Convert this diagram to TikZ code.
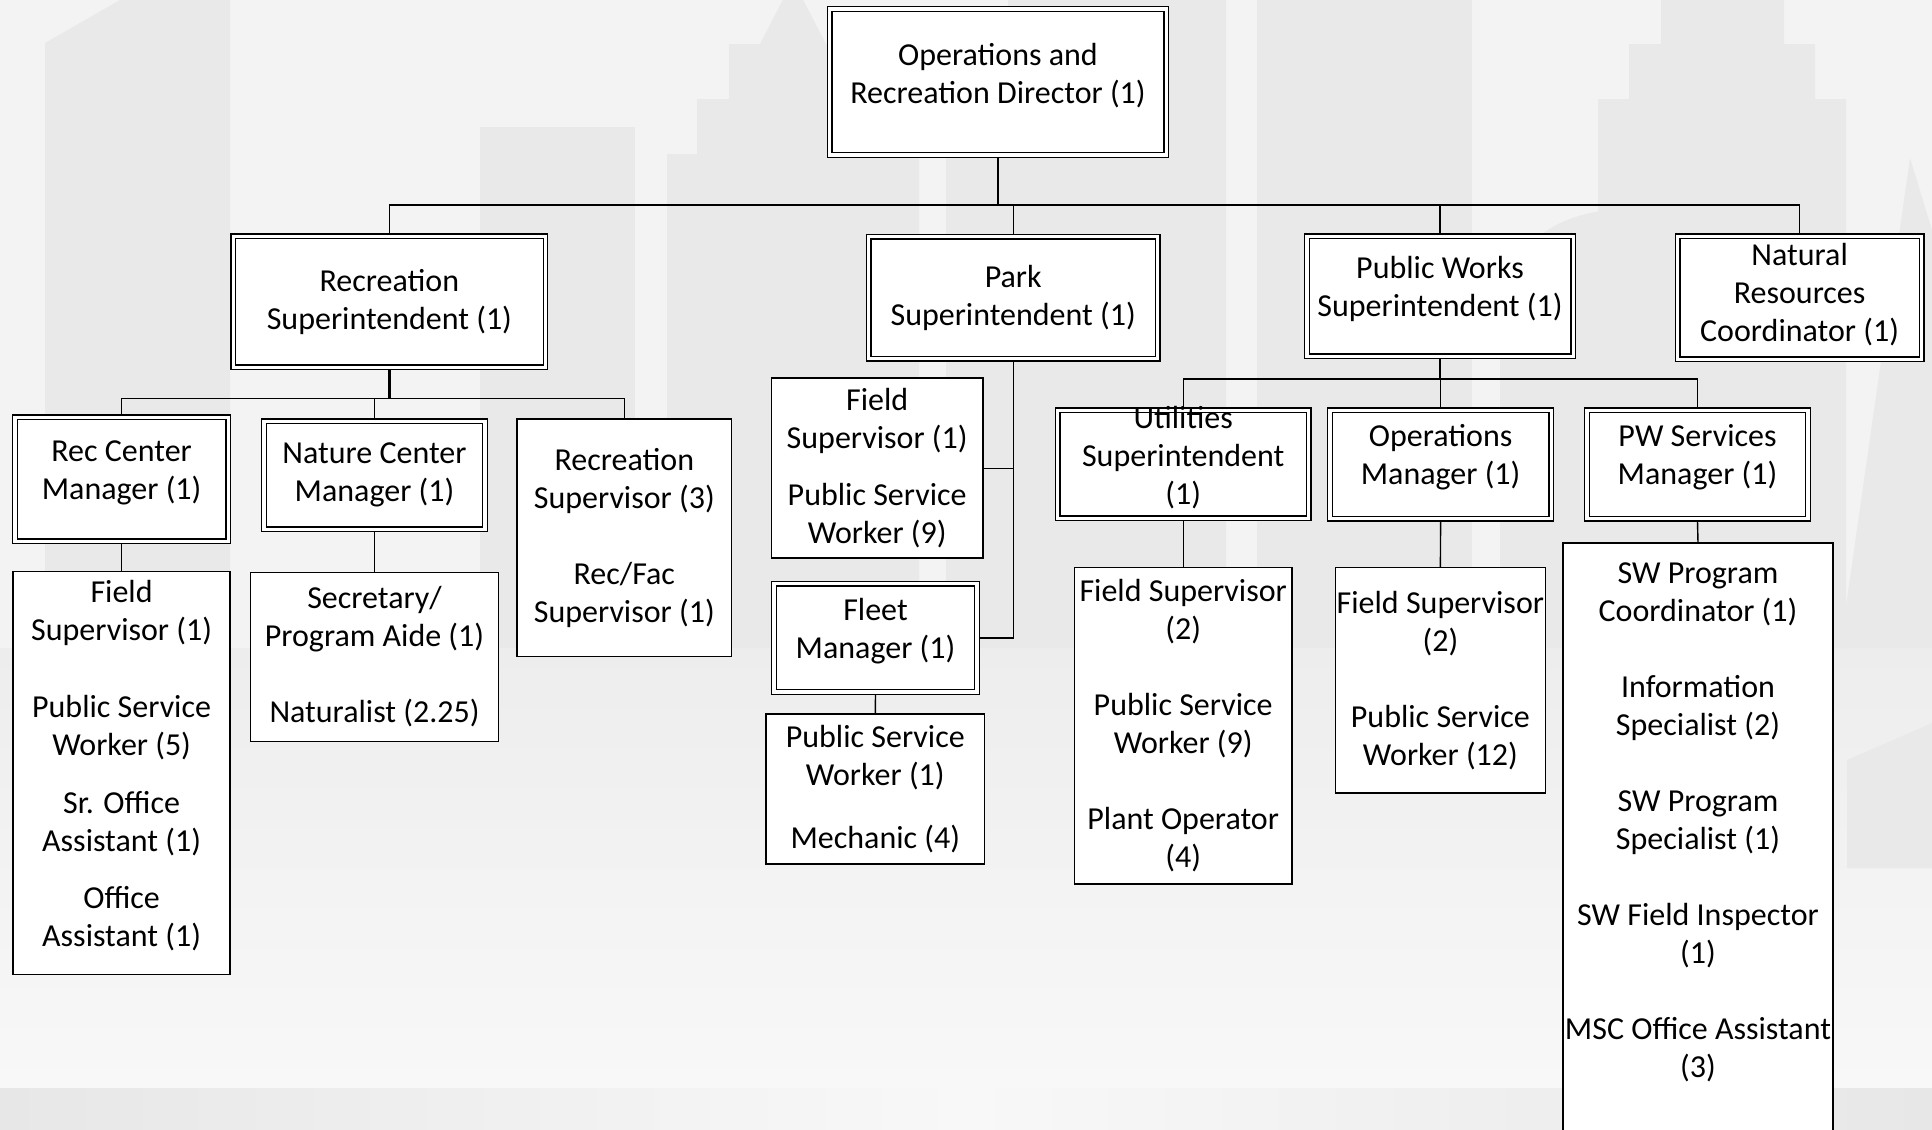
\documentclass[tikz,border=0pt]{standalone}
\usepackage{fontspec}
\setmainfont{Carlito}
\usepackage{tikz}
\usetikzlibrary{calc}

\definecolor{paper}{RGB}{243,243,243}
\definecolor{tower}{RGB}{233,233,233}
\definecolor{ground}{RGB}{237,237,237}
\definecolor{lowpaper}{RGB}{248,248,248}
\definecolor{band}{RGB}{231,231,231}

\begin{document}
\begin{tikzpicture}[x=0.01cm, y=-0.01cm,
		font=\fontsize{9.1}{10.8}\selectfont,
		box/.style = {draw, fill=white, align=center, inner sep=0pt},
		mgrbox/.style = {box, line width=0.4pt, double, double distance=0.9pt, outer sep=0.85pt},
		staffbox/.style = {box, line width=0.45pt},
		conn/.style = {line width=0.4pt},
		trunk/.style = {line width=0.65pt}]
		\def\gap{10.8pt};
		\def\lift{\mbox{}\\[-8.4pt]};
		
		\useasboundingbox (0,0) rectangle (1932,1129);
		\clip (0,0) rectangle (1932,1129);
		
		%backdrop
		\fill [paper] (0,0) rectangle (1932,1129);
		\shade [top color = ground, bottom color = lowpaper] (0,648) rectangle (1932,1088);
		\shade [left color = band, right color = band, middle color = lowpaper] (0,1088) rectangle (1932,1129);
		\fill [tower] (45,648) -- (45,43) -- (120,0) -- (230,0) -- (230,648) -- cycle;
		\fill [tower] (480,127) rectangle (635,648);
		\fill [tower] (667,648) -- (667,154) -- (697,154) -- (697,99) -- (729,99) -- (729,44) -- (760,44) -- (788,-10) -- (798,-10) -- (826,44) -- (857,44) -- (857,99) -- (889,99) -- (889,154) -- (919,154) -- (919,648) -- cycle;
		\fill [tower] (946,648) -- (946,157) -- (1008,157) -- (1008,0) -- (1226,0) -- (1226,648) -- cycle;
		\fill [tower] (1257,0) rectangle (1472,648);
		\fill [tower] (1500,648) -- (1500,330) .. controls (1500,240) and (1560,208) .. (1640,208) -- (1760,208) -- (1760,648) -- cycle;
		\fill [tower] (1598,648) -- (1598,99) -- (1629,99) -- (1629,44) -- (1661,44) -- (1661,0) -- (1784,0) -- (1784,44) -- (1815,44) -- (1815,99) -- (1846,99) -- (1846,648) -- cycle;
		\fill [tower] (1840,648) -- (1910,158) -- (1932,230) -- (1932,648) -- cycle;
		\fill [tower] (1847,868) -- (1847,760) -- (1932,723) -- (1932,868) -- cycle;
		
		%top
		\node [mgrbox, minimum width = 3.36cm, minimum height = 1.46cm] (dir) at (998,82) {\lift Operations and\\Recreation Director (1)};
		
		%superintendents
		\node [mgrbox, minimum width = 3.12cm, minimum height = 1.31cm] (recsup) at (389.4,301.8) {Recreation\\Superintendent (1)};
		\node [mgrbox, minimum width = 2.89cm, minimum height = 1.22cm] (parksup) at (1013.2,297.8) {Park\\Superintendent (1)};
		\node [mgrbox, minimum width = 2.66cm, minimum height = 1.20cm] (pwsup) at (1440,296.2) {\lift Public Works\\Superintendent (1)};
		\node [mgrbox, minimum width = 2.44cm, minimum height = 1.23cm] (natres) at (1799.6,297.9) {\mbox{}\\[-6.3pt]Natural\\Resources\\Coordinator (1)};
		
		%recreation
		\node [mgrbox, minimum width = 2.13cm, minimum height = 1.24cm] (rcmgr) at (121.6,479.2) {\lift Rec Center\\Manager (1)};
		\node [mgrbox, minimum width = 2.21cm, minimum height = 1.08cm] (ncmgr) at (374.5,475.3) {Nature Center\\Manager (1)};
		\node [staffbox, minimum width = 2.14cm, minimum height = 2.37cm] (recsv) at (624.3,537.8) {Recreation\\Supervisor (3)\\[\gap]Rec/Fac\\Supervisor (1)};
		\node [staffbox, minimum width = 2.17cm, minimum height = 4.03cm] (rcstaff) at (121.6,772.9) {\lift Field\\Supervisor (1)\\[10.9pt]Public Service\\Worker (5)\\[5.7pt]Sr. Office\\Assistant (1)\\[5.6pt]Office\\Assistant (1)};
		\node [staffbox, minimum width = 2.48cm, minimum height = 1.69cm] (ncstaff) at (374.5,657) {Secretary/\\Program Aide (1)\\[\gap]Naturalist (2.25)};
		
		%park
		\node [staffbox, minimum width = 2.11cm, minimum height = 1.80cm] (parkfs) at (877.2,468.2) {Field\\Supervisor (1)\\[5.5pt]Public Service\\Worker (9)};
		\node [mgrbox, minimum width = 2.03cm, minimum height = 1.08cm] (fleet) at (875.5,637.9) {\lift Fleet\\Manager (1)};
		\node [staffbox, minimum width = 2.18cm, minimum height = 1.50cm] (fleetstaff) at (875.3,789.2) {Public Service\\Worker (1)\\[7.2pt]Mechanic (4)};
		
		%public works
		\node [mgrbox, minimum width = 2.51cm, minimum height = 1.08cm] (utsup) at (1183.2,464.3) {\lift Utilities\\Superintendent\\(1)};
		\node [mgrbox, minimum width = 2.21cm, minimum height = 1.08cm] (opsmgr) at (1440.6,464.5) {\lift Operations\\Manager (1)};
		\node [mgrbox, minimum width = 2.21cm, minimum height = 1.08cm] (pwsmgr) at (1697.5,464.5) {\lift PW Services\\Manager (1)};
		\node [staffbox, minimum width = 2.17cm, minimum height = 3.16cm] (utstaff) at (1183.2,725.6) {Field Supervisor\\(2)\\[\gap]Public Service\\Worker (9)\\[\gap]Plant Operator\\(4)};
		\node [staffbox, minimum width = 2.10cm, minimum height = 2.25cm] (opsstaff) at (1440.4,680.2) {Field Supervisor\\(2)\\[\gap]Public Service\\Worker (12)};
		\node [staffbox, minimum width = 2.70cm, minimum height = 5.97cm] (pwsstaff) at (1698,841.7) {};
		\node [align = center, inner sep = 0pt] (pwstext) at (1698,822) {SW Program\\Coordinator (1)\\[\gap]Information\\Specialist (2)\\[\gap]SW Program\\Specialist (1)\\[\gap]SW Field Inspector\\(1)\\[\gap]MSC Office Assistant\\(3)};
		
		%connectors
		\coordinate (bus0) at (998,205);
		\coordinate (bus1) at (389.4,398.3);
		\coordinate (bus2) at (1440,379);
		
		\foreach \c in {recsup,parksup,pwsup,natres}
			\draw [conn] (dir.south) -- (dir.south |- bus0) -| (\c.north);
		\foreach \c in {rcmgr,ncmgr,recsv}
			\draw [conn] (recsup.south) -- (recsup.south |- bus1) -| (\c.north);
		\foreach \c in {utsup,opsmgr,pwsmgr}
			\draw [conn] (pwsup.south) -- (pwsup.south |- bus2) -| (\c.north);
		
		%heavier stems where the lines overlap
		\draw [trunk] (dir.south) -- (dir.south |- bus0) -- (pwsup.north |- bus0);
		\draw [trunk] (recsup.south) -- (recsup.south |- bus1);
		\draw [trunk] (pwsup.south) -- (pwsup.south |- bus2);
		
		\draw [conn] (parksup.south) |- (fleet.east);
		\draw [conn] (parkfs.east) -- (parkfs.east -| parksup.south);
		
		\draw [conn] (rcmgr.south) -- (rcstaff.north);
		\draw [conn] (ncmgr.south) -- (ncstaff.north);
		\draw [conn] (fleet.south) -- (fleetstaff.north);
		\draw [conn] (utsup.south) -- (utstaff.north);
		\draw [conn] (opsmgr.south) -- (opsstaff.north);
		\draw [conn] (pwsmgr.south) -- (pwsstaff.north);
	\end{tikzpicture}
\end{document}
